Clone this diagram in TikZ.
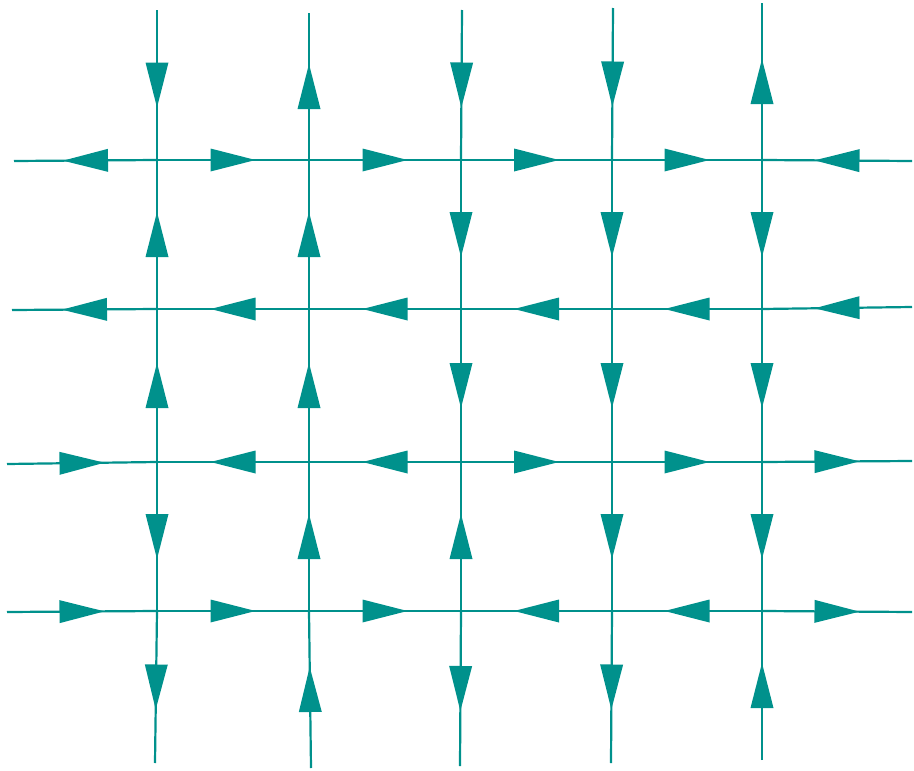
\documentclass[tikz,border=0pt]{standalone}
\usetikzlibrary{decorations.markings}
\definecolor{tealA}{RGB}{0,145,140}
\tikzset{
  flow/.style={draw=tealA, line width=2.2pt, postaction={decorate},
    decoration={markings, mark=at position 0.5 with {\fill[tealA] (-22.5pt,-11.5pt) -- (22.5pt,0pt) -- (-22.5pt,11.5pt) -- cycle;}}}
}
\begin{document}
\begin{tikzpicture}[x=1pt,y=-1pt]
\useasboundingbox (0,0) rectangle (914,771);
% grid points
\foreach \c/\x in {1/157,2/309,3/461,4/612,5/762}{
  \foreach \r/\y in {1/160,2/309,3/462,4/611}{
    \coordinate (n\c\r) at (\x,\y);
  }
}
\coordinate (t1) at (157,10);  \coordinate (b1) at (155,763);
\coordinate (t2) at (309,13);  \coordinate (b2) at (311,768);
\coordinate (t3) at (462,10);  \coordinate (b3) at (460,766);
\coordinate (t4) at (613,8);   \coordinate (b4) at (611,763);
\coordinate (t5) at (762,3);   \coordinate (b5) at (762,760);
\coordinate (l1) at (14,161);  \coordinate (r1) at (912,161);
\coordinate (l2) at (12,310);  \coordinate (r2) at (912,307);
\coordinate (l3) at (7,464);   \coordinate (r3) at (912,461);
\coordinate (l4) at (7,612);   \coordinate (r4) at (912,612);
% row 1
\draw[flow] (n11) -- (l1);
\draw[flow] (n11) -- (n21);
\draw[flow] (n21) -- (n31);
\draw[flow] (n31) -- (n41);
\draw[flow] (n41) -- (n51);
\draw[flow] (r1) -- (n51);
% row 2
\draw[flow] (n12) -- (l2);
\draw[flow] (n22) -- (n12);
\draw[flow] (n32) -- (n22);
\draw[flow] (n42) -- (n32);
\draw[flow] (n52) -- (n42);
\draw[flow] (r2) -- (n52);
% row 3
\draw[flow] (l3) -- (n13);
\draw[flow] (n23) -- (n13);
\draw[flow] (n33) -- (n23);
\draw[flow] (n33) -- (n43);
\draw[flow] (n43) -- (n53);
\draw[flow] (n53) -- (r3);
% row 4
\draw[flow] (l4) -- (n14);
\draw[flow] (n14) -- (n24);
\draw[flow] (n24) -- (n34);
\draw[flow] (n44) -- (n34);
\draw[flow] (n54) -- (n44);
\draw[flow] (n54) -- (r4);
% column 1
\draw[flow] (t1) -- (n11);
\draw[flow] (n12) -- (n11);
\draw[flow] (n13) -- (n12);
\draw[flow] (n13) -- (n14);
\draw[flow] (n14) -- (b1);
% column 2
\draw[flow] (n21) -- (t2);
\draw[flow] (n22) -- (n21);
\draw[flow] (n23) -- (n22);
\draw[flow] (n24) -- (n23);
\draw[flow] (b2) -- (n24);
% column 3
\draw[flow] (t3) -- (n31);
\draw[flow] (n31) -- (n32);
\draw[flow] (n32) -- (n33);
\draw[flow] (n34) -- (n33);
\draw[flow] (n34) -- (b3);
% column 4
\draw[flow] (t4) -- (n41);
\draw[flow] (n41) -- (n42);
\draw[flow] (n42) -- (n43);
\draw[flow] (n43) -- (n44);
\draw[flow] (n44) -- (b4);
% column 5
\draw[flow] (n51) -- (t5);
\draw[flow] (n51) -- (n52);
\draw[flow] (n52) -- (n53);
\draw[flow] (n53) -- (n54);
\draw[flow] (b5) -- (n54);
\end{tikzpicture}
\end{document}
